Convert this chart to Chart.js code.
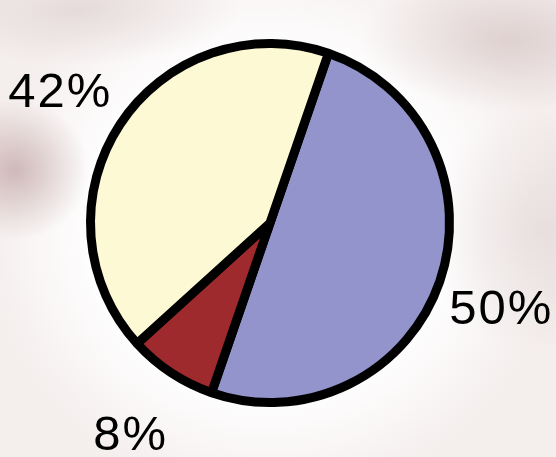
<!DOCTYPE html>
<html>
<head>
<meta charset="utf-8">
<script src="https://cdn.jsdelivr.net/npm/chart.js@4/dist/chart.umd.min.js"></script>
<style>
  html, body { margin: 0; padding: 0; }
  body {
    width: 556px; height: 457px; overflow: hidden;
    background:
      radial-gradient(ellipse 75px 70px at 15px 170px, rgba(190,160,160,0.7), rgba(190,160,160,0) 100%),
      radial-gradient(ellipse 150px 70px at 510px 40px, rgba(205,185,185,0.55), rgba(205,185,185,0) 100%),
      radial-gradient(ellipse 120px 120px at 540px 230px, rgba(215,200,200,0.45), rgba(215,200,200,0) 100%),
      radial-gradient(ellipse 160px 55px at 80px 10px, rgba(215,200,200,0.5), rgba(215,200,200,0) 100%),
      radial-gradient(ellipse 290px 280px at 270px 225px, #ffffff 60%, #f4eeed 100%);
  }
  #wrap { position: absolute; left: 0; top: 0; width: 556px; height: 457px; }
</style>
</head>
<body>
<div id="wrap"><canvas id="pieChart"></canvas></div>
<script>
const labels = ["50%", "8%", "42%"];
const values = [50, 8, 42];
const colors = ["#9494cc", "#9e2a2e", "#fcf9d4"];

// percentage labels outside each slice
const outsideLabels = {
  id: "outsideLabels",
  afterDatasetsDraw(chart) {
    const ctx = chart.ctx;
    const arcs = chart.getDatasetMeta(0).data;
    ctx.save();
    ctx.font = "49px 'Liberation Sans', Arial, sans-serif";
    ctx.letterSpacing = "2px";
    ctx.fillStyle = "#000";
    ctx.textAlign = "center";
    ctx.textBaseline = "middle";
    arcs.forEach((arc, i) => {
      const mid = (arc.startAngle + arc.endAngle) / 2;
      const d = arc.outerRadius * 1.38;
      ctx.fillText(labels[i], arc.x + Math.cos(mid) * d - 3, arc.y + Math.sin(mid) * d + 7);
    });
    ctx.restore();
  }
};

new Chart(document.getElementById("pieChart").getContext("2d"), {
  type: "pie",
  data: {
    labels: labels,
    datasets: [{
      data: values,
      backgroundColor: colors,
      borderColor: "#000",
      borderWidth: 9
    }]
  },
  options: {
    responsive: true,
    maintainAspectRatio: false,
    animation: false,
    rotation: 19,
    layout: { padding: { left: 86, right: 102, top: 38, bottom: 49 } },
    plugins: {
      legend: { display: false },
      tooltip: { enabled: false }
    }
  },
  plugins: [outsideLabels]
});
</script>
</body>
</html>
